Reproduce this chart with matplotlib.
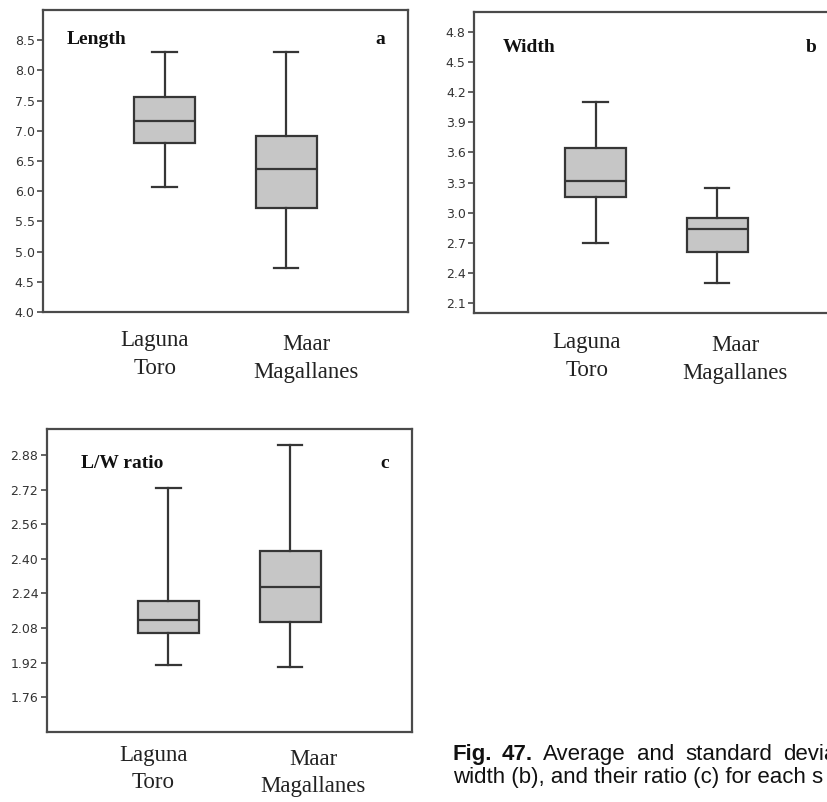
import matplotlib
matplotlib.use("Agg")
import matplotlib.pyplot as plt
from matplotlib import transforms

# ---------------- data ----------------
groups = ["Laguna\nToro", "Maar\nMagallanes"]

# (whisker low, Q1, median, Q3, whisker high)
length_stats = [[6.07, 6.80, 7.16, 7.56, 8.30],
                [4.73, 5.72, 6.36, 6.91, 8.30]]
width_stats = [[2.70, 3.16, 3.32, 3.64, 4.10],
               [2.30, 2.61, 2.84, 2.95, 3.25]]
ratio_stats = [[1.91, 2.058, 2.119, 2.206, 2.726],
               [1.90, 2.107, 2.272, 2.437, 2.927]]

length_ticks = [4.0, 4.5, 5.0, 5.5, 6.0, 6.5, 7.0, 7.5, 8.0, 8.5]
width_ticks = [2.1, 2.4, 2.7, 3.0, 3.3, 3.6, 3.9, 4.2, 4.5, 4.8]
ratio_ticks = [1.76, 1.92, 2.08, 2.24, 2.40, 2.56, 2.72, 2.88]

titles = ["Length", "Width", "L/W ratio"]
letters = ["a", "b", "c"]

caption_line1 = ["Fig.", "47.", "Average", "and", "standard", "devia"]
caption_line2 = "width (b), and their ratio (c) for each s"

# ---------------- figure ----------------
W, H = 828, 802
fig = plt.figure(figsize=(W / 100, H / 100), dpi=100)
fig.patch.set_facecolor("white")

LINE = "#363636"
FILL = "#c6c6c6"
FRAME = "#4a4a4a"
TICKFONT = ["Liberation Sans Narrow", "DejaVu Sans"]
SERIF = ["Liberation Serif", "DejaVu Serif"]


def px_axes(left, top, right, bottom):
    return fig.add_axes([left / W, 1 - bottom / H, (right - left) / W, (bottom - top) / H])


def make_panel(ax, stats, ticks, ylim, fmt, title, letter, tpos, lpos, label_dx, label_dy):
    bxp = []
    for s in stats:
        bxp.append(dict(whislo=s[0], q1=s[1], med=s[2], q3=s[3], whishi=s[4], fliers=[]))
    ax.bxp(bxp, positions=[1, 2], widths=0.5, capwidths=0.2, patch_artist=True,
           showfliers=False,
           boxprops=dict(facecolor=FILL, edgecolor=LINE, linewidth=1.6),
           medianprops=dict(color=LINE, linewidth=1.6),
           whiskerprops=dict(color=LINE, linewidth=1.6),
           capprops=dict(color=LINE, linewidth=1.6))
    ax.set_xlim(0, 3)
    ax.set_ylim(*ylim)
    ax.set_yticks(ticks)
    ax.set_yticklabels([fmt.format(t) for t in ticks], fontsize=9, color="#333333",
                       family=TICKFONT)
    ax.tick_params(axis="y", length=4, width=1.2, color=FRAME, pad=2)
    ax.set_xticks([])
    for sp in ax.spines.values():
        sp.set_color(FRAME)
        sp.set_linewidth(1.6)
    ax.text(tpos[0], tpos[1], title, transform=ax.transAxes, fontsize=14,
            fontweight="bold", family=SERIF, ha="left", va="baseline", color="#111111")
    ax.text(lpos[0], lpos[1], letter, transform=ax.transAxes, fontsize=14,
            fontweight="bold", family=SERIF, ha="center", va="baseline", color="#111111")
    blend = transforms.blended_transform_factory(ax.transData, ax.transAxes)
    for i, g in enumerate(groups):
        tr = transforms.offset_copy(blend, fig=fig, x=label_dx[i] * 0.72,
                                    y=-label_dy[i] * 0.72, units="points")
        ax.text(i + 1, 0, g, transform=tr, ha="center", va="top", fontsize=16.5,
                family=SERIF, color="#222222", linespacing=1.42)


ax_a = px_axes(43, 10, 408, 312)
make_panel(ax_a, length_stats, length_ticks, (4.0, 9.0), "{:.1f}", titles[0], letters[0],
           (0.066, 0.887), (0.923, 0.887), (-10, 20), (18, 22))

ax_b = px_axes(474, 12, 839, 313)
make_panel(ax_b, width_stats, width_ticks, (2.0, 5.0), "{:.1f}", titles[1], letters[1],
           (0.08, 0.868), (0.925, 0.868), (-9, 18), (19, 22))

ax_c = px_axes(46.7, 429.3, 412, 731.7)
make_panel(ax_c, ratio_stats, ratio_ticks, (1.6, 3.0), "{:.2f}", titles[2], letters[2],
           (0.094, 0.871), (0.926, 0.871), (-15, 23), (13, 17))

# ---------------- caption ----------------
CAP = ["Liberation Sans", "DejaVu Sans"]
cap_x = [452.7, 501.7, 543, 637, 685, 783]
for i, w in enumerate(caption_line1):
    fig.text(cap_x[i] / W, 1 - 760 / H, w, fontsize=16, family=CAP,
             fontweight="bold" if i < 2 else "normal",
             ha="left", va="baseline", color="#111111")
fig.text(452.7 / W, 1 - 783 / H, caption_line2,
         fontsize=16, family=CAP, ha="left", va="baseline", color="#111111")

fig.savefig("out.png", dpi=100, facecolor="white")
